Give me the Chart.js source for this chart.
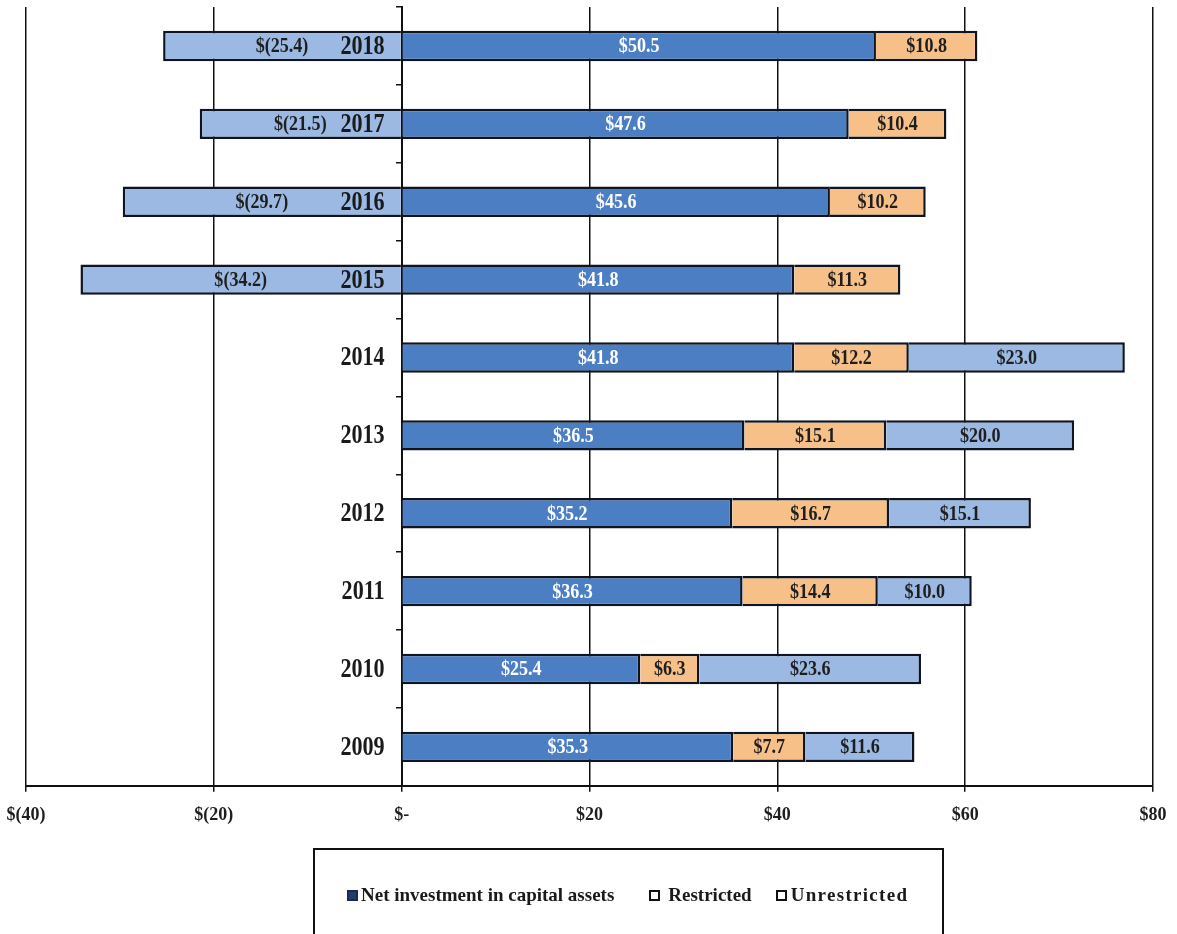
<!DOCTYPE html>
<html>
<head>
<meta charset="utf-8">
<script src="https://cdn.jsdelivr.net/npm/chart.js@4.4.1/dist/chart.umd.min.js"></script>
<style>
  html, body { margin: 0; padding: 0; background: #ffffff; }
  #wrap { position: relative; width: 1177px; height: 934px; overflow: hidden; }
  #c { position: absolute; left: 0; top: 0; }
  #legend {
    position: absolute; left: 313px; top: 848px; width: 627px; height: 100px;
    border: 2px solid #111; box-sizing: content-box;
    font-family: "Liberation Serif", "Times New Roman", serif; font-weight: bold;
    font-size: 19px; color: #1a1a1a;
  }
  #legend .items { position: absolute; left: 32px; top: 34px; display: flex; align-items: center; white-space: nowrap; }
  #legend .item { display: flex; align-items: center; }
  #legend .sw { width: 11px; height: 11px; box-sizing: border-box; }
</style>
</head>
<body>
<div id="wrap">
  <canvas id="c" width="1177" height="934"></canvas>
  <div id="legend"><div class="items" id="legendItems"></div></div>
</div>
<script>
// ---- Data ----
const years = ["2018","2017","2016","2015","2014","2013","2012","2011","2010","2009"];
const netInvestment = [50.5, 47.6, 45.6, 41.8, 41.8, 36.5, 35.2, 36.3, 25.4, 35.3];
const restricted    = [10.8, 10.4, 10.2, 11.3, 12.2, 15.1, 16.7, 14.4, 6.3, 7.7];
const unrestricted  = [-25.4, -21.5, -29.7, -34.2, 23.0, 20.0, 15.1, 10.0, 23.6, 11.6];
const seriesNames = ["Net investment in capital assets", "Restricted", "Unrestricted"];
const xMin = -40, xMax = 80, xStep = 20;

// ---- Styles ----
const FONT = '"Liberation Serif", "Times New Roman", serif';
const barColors = ["#4c7ec4", "#f7c089", "#9bb9e2"];
const labelColors = ["#ffffff", "#1e1e1e", "#1e1e1e"];
const legendSwatches = [
  {bg: "#243c6c", border: "#1a2a50", ml: "0px",  mr: "3px"},
  {bg: "#ffffff", border: "#111111", ml: "35px", mr: "8px"},
  {bg: "#ffffff", border: "#111111", ml: "24px", mr: "4px"}
];

function money(v) {
  if (v < 0) return "$(" + Math.abs(v).toFixed(1) + ")";
  return "$" + v.toFixed(1);
}
function tickMoney(v) {
  if (v === 0) return "$-";
  if (v < 0) return "$(" + Math.abs(v) + ")";
  return "$" + v;
}

// draw horizontally condensed text (mimics the narrow bold serif of the original)
function condensedText(ctx, txt, x, y, sx) {
  ctx.save();
  ctx.translate(x, y);
  ctx.scale(sx, 1);
  ctx.fillText(txt, 0, 0);
  ctx.restore();
}

const barLabelPlugin = {
  id: 'barLabels',
  afterDatasetsDraw(chart) {
    const ctx = chart.ctx;
    ctx.save();
    ctx.font = 'bold 21px ' + FONT;
    ctx.textAlign = 'center';
    ctx.textBaseline = 'middle';
    chart.data.datasets.forEach((ds, di) => {
      const meta = chart.getDatasetMeta(di);
      meta.data.forEach((el, i) => {
        const v = ds.data[i];
        const cx = (el.x + el.base) / 2;
        ctx.fillStyle = labelColors[di];
        condensedText(ctx, money(v), cx, el.y + 1, 0.86);
      });
    });
    // year labels next to the zero line
    const xs = chart.scales.x, ys = chart.scales.y;
    const x0 = xs.getPixelForValue(0);
    ctx.font = 'bold 27px ' + FONT;
    ctx.textAlign = 'right';
    ctx.fillStyle = '#1a1a1a';
    years.forEach((yr, i) => {
      condensedText(ctx, yr, x0 - 17, ys.getPixelForValue(i) + 1, 0.82);
    });
    ctx.restore();
  }
};

const chart = new Chart(document.getElementById('c'), {
  type: 'bar',
  data: {
    labels: years,
    datasets: [
      {label: seriesNames[0], data: netInvestment, backgroundColor: barColors[0]},
      {label: seriesNames[1], data: restricted, backgroundColor: barColors[1]},
      {label: seriesNames[2], data: unrestricted, backgroundColor: barColors[2]}
    ].map(d => Object.assign(d, {borderColor: '#0e1422', borderWidth: 2.5, categoryPercentage: 1, barPercentage: 0.39}))
  },
  options: {
    indexAxis: 'y',
    responsive: false,
    animation: false,
    layout: {padding: {left: 26, right: 24, top: 7, bottom: 96}},
    plugins: {legend: {display: false}, tooltip: {enabled: false}},
    scales: {
      x: {
        stacked: true, min: xMin, max: xMax,
        ticks: {stepSize: xStep, callback: v => tickMoney(v), color: '#1e1e1e',
                font: {family: FONT, size: 18, weight: 'bold', lineHeight: 1.9}, padding: 6, maxRotation: 0},
        grid: {color: '#111', lineWidth: 1.5, tickLength: 6, drawTicks: true},
        border: {color: '#111', width: 2}
      },
      y: {
        stacked: true,
        position: {x: 0},
        ticks: {display: false},
        grid: {drawOnChartArea: false, drawTicks: true, tickLength: 5, color: '#111', lineWidth: 1.5},
        border: {color: '#111', width: 2}
      }
    }
  },
  plugins: [barLabelPlugin]
});

// HTML legend built from the chart's datasets
const li = document.getElementById('legendItems');
chart.data.datasets.forEach((ds, i) => {
  const item = document.createElement('div');
  item.className = 'item';
  item.style.marginLeft = legendSwatches[i].ml;
  const sw = document.createElement('span');
  sw.className = 'sw';
  sw.style.background = legendSwatches[i].bg;
  sw.style.border = '2px solid ' + legendSwatches[i].border;
  sw.style.marginRight = legendSwatches[i].mr;
  const t = document.createElement('span');
  t.textContent = ds.label;
  if (i === 2) t.style.letterSpacing = '1.3px';
  item.appendChild(sw); item.appendChild(t);
  li.appendChild(item);
});
</script>
</body>
</html>
